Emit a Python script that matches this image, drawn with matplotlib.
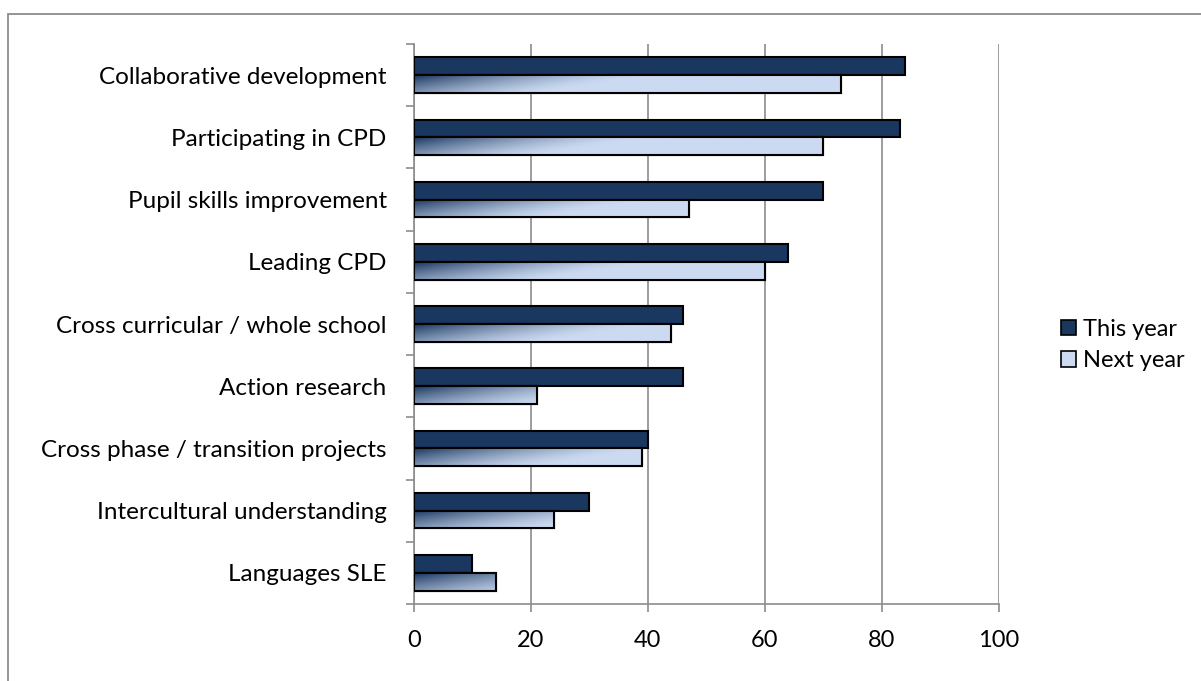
import matplotlib
matplotlib.use("Agg")
import matplotlib.pyplot as plt
import numpy as np
from matplotlib.patches import Rectangle, Patch
from matplotlib.colors import to_rgb

categories = ["Collaborative development", "Participating in CPD", "Pupil skills improvement",
              "Leading CPD", "Cross curricular / whole school", "Action research",
              "Cross phase / transition projects", "Intercultural understanding", "Languages SLE"]
this_year = [84, 83, 70, 64, 46, 46, 40, 30, 10]
next_year = [73, 70, 47, 60, 44, 21, 39, 24, 14]
series_names = ["This year", "Next year"]
x_ticks = [0, 20, 40, 60, 80, 100]

W, H = 1201, 681
fig = plt.figure(figsize=(W / 100, H / 100), dpi=100)
plt.rcParams['font.family'] = ['Lato', 'DejaVu Sans']

ax = fig.add_axes([413.8 / W, 1 - 604 / H, (999 - 413.8) / W, (604 - 44) / H])

dark = "#1A3760"
light = "#CBDAF1"
grid_c = "#8C8C8C"
bw = 0.286
y = np.arange(len(categories))

ax.barh(y - bw / 2, this_year, height=bw, color=dark, edgecolor="black", linewidth=1.5, zorder=3)
light_bars = ax.barh(y + bw / 2, next_year, height=bw, color=light, edgecolor="black",
                     linewidth=1.5, zorder=3)

dc = np.array(to_rgb(dark)); lc = np.array(to_rgb(light))
px_per_unit = (999 - 413.8) / 100
for rect, val in zip(light_bars, next_year):
    nx, ny = 300, 24
    u = np.linspace(0, 1, nx)[None, :]
    v = np.linspace(0, 1, ny)[:, None]
    L = val * px_per_unit
    t = u * L / 230 + v * 0.45
    d = np.clip(1 - t, 0, 1) ** 1.4
    img = lc[None, None, :] * (1 - d[..., None]) + dc[None, None, :] * d[..., None]
    x0, y0 = rect.get_x(), rect.get_y()
    im = ax.imshow(img, extent=(x0, x0 + rect.get_width(), y0 + rect.get_height(), y0),
                   aspect='auto', zorder=3.5, interpolation='bilinear')
    im.set_clip_path(rect)
    ax.add_patch(Rectangle((x0, y0), rect.get_width(), rect.get_height(), fill=False,
                           edgecolor="black", linewidth=1.5, zorder=4))

ax.set_xlim(0, 100)
ax.set_ylim(len(categories) - 0.5, -0.5)
ax.set_xticks(x_ticks)
ax.set_xticklabels([str(t) for t in x_ticks], fontsize=17)
ax.set_yticks(y)
ax.set_yticklabels(categories, fontsize=17.5)
ax.set_yticks(np.arange(-0.5, len(categories), 1), minor=True)
ax.tick_params(axis='y', which='major', length=0, pad=19.5)
ax.tick_params(axis='y', which='minor', length=6, color=grid_c, width=1.2, direction='out')
ax.tick_params(axis='x', length=6, color=grid_c, width=1.2, direction='out', pad=13)
ax.grid(axis='x', color=grid_c, linewidth=1.2, zorder=0)
ax.set_axisbelow(True)
for s in ['top', 'right']:
    ax.spines[s].set_visible(False)
for s in ['left', 'bottom']:
    ax.spines[s].set_color(grid_c)
    ax.spines[s].set_linewidth(1.2)

handles = [Patch(facecolor=dark, edgecolor="black", linewidth=1.2),
           Patch(facecolor=light, edgecolor="black", linewidth=1.2)]
fig.legend(handles, series_names, loc='center left', bbox_to_anchor=(1061 / W, 1 - 345 / H),
           frameon=False, fontsize=17, handlelength=0.64, handleheight=0.64, handletextpad=0.3,
           labelspacing=0.45, borderaxespad=0, borderpad=0)

fig.patches.append(Rectangle((8 / W, -0.1), 2, 1.1 - 14 / H, transform=fig.transFigure,
                             fill=False, edgecolor="#8C8C8C", linewidth=1.3))

fig.savefig("out.png", dpi=100)
